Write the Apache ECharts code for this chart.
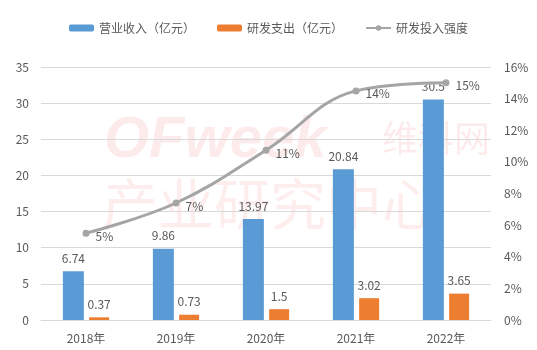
<!DOCTYPE html>
<html><head><meta charset="utf-8">
<script src="https://cdn.jsdelivr.net/npm/echarts@6/dist/echarts.min.js"></script>
<style>html,body{margin:0;padding:0;background:#fff}#c{width:537px;height:350px}</style>
</head><body><div id="c"></div>
<script>
const categories = ['2018年','2019年','2020年','2021年','2022年'];
const revenue = [6.74, 9.86, 13.97, 20.84, 30.5];
const rdSpend = [0.37, 0.73, 1.5, 3.02, 3.65];
const rdIntensity = [0.0549, 0.0740, 0.1074, 0.1449, 0.150];
const seriesNames = ['营业收入（亿元）','研发支出（亿元）','研发投入强度'];

const font = '"Noto Sans CJK SC", "Microsoft YaHei", sans-serif';
const txt = '#595959';
const chart = echarts.init(document.getElementById('c'));
chart.setOption({
  animation: false,
  textStyle: {fontFamily: font},
  graphic: [
    {type:'text', left:104, top:112, z:0, silent:true, style:{text:'OFweek', font:'italic bold 58px Arial, sans-serif', fill:'rgba(235,90,90,0.12)'}},
    {type:'text', left:382, top:120, z:0, silent:true, style:{text:'维科网', font:'36px "Noto Sans CJK SC"', fill:'rgba(235,90,90,0.12)'}},
    {type:'text', left:102, top:176, z:0, silent:true, style:{text:'产业研究中心', font:'56px "Noto Sans CJK SC"', fill:'rgba(235,90,90,0.11)'}}
  ],
  legend: {
    top: 17, left: 'center',
    itemWidth: 25, itemHeight: 7, itemGap: 22,
    textStyle: {color: txt, fontSize: 12, fontFamily: font},
    data: seriesNames
  },
  grid: {left: 41, right: 46, top: 67, bottom: 30, containLabel: false},
  xAxis: {
    type: 'category', data: categories,
    axisLine: {lineStyle: {color: '#D9D9D9'}},
    axisTick: {show: false},
    axisLabel: {color: txt, fontSize: 12, margin: 12}
  },
  yAxis: [
    {type: 'value', min: 0, max: 35, interval: 5,
     axisLine: {show: false}, axisTick: {show: false},
     splitLine: {lineStyle: {color: '#D9D9D9'}},
     axisLabel: {color: txt, fontSize: 12, margin: 12}},
    {type: 'value', min: 0, max: 0.16, interval: 0.02,
     axisLine: {show: false}, axisTick: {show: false},
     splitLine: {show: false},
     axisLabel: {color: txt, fontSize: 12, margin: 13, formatter: v => Math.round(v*100) + '%'}}
  ],
  series: [
    {name: seriesNames[0], type: 'bar', data: revenue, barWidth: 21, barGap: '25%',
     itemStyle: {color: '#5B9BD5'},
     label: {show: true, position: 'top', distance: 7, color: txt, fontSize: 12}},
    {name: seriesNames[1], type: 'bar', data: rdSpend, barWidth: 20, barGap: '25%',
     itemStyle: {color: '#ED7D31'},
     label: {show: true, position: 'top', distance: 7, color: txt, fontSize: 12}},
    {name: seriesNames[2], type: 'line', yAxisIndex: 1, data: rdIntensity, smooth: 0.4,
     symbol: 'circle', symbolSize: 7,
     lineStyle: {color: '#A5A5A5', width: 3}, itemStyle: {color: '#A5A5A5'},
     label: {show: true, position: 'right', distance: 6, offset: [0, 3], color: txt, fontSize: 12,
             formatter: p => Math.round(p.value*100) + '%'}}
  ]
});
</script></body></html>
